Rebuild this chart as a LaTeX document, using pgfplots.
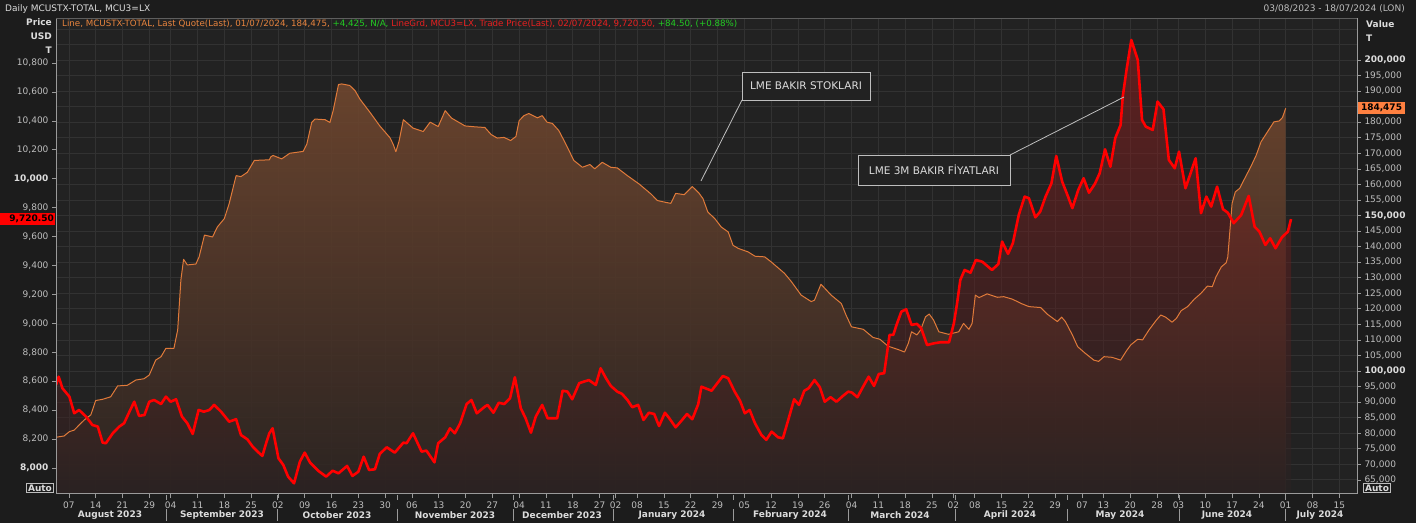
\documentclass[border=0pt]{standalone}
\usepackage{pgfplots}
\pgfplotsset{compat=1.18}
\usepackage{pgfplotstable}
\usepackage{fontspec}
\setmainfont{DejaVu Sans}

\definecolor{bg}{HTML}{1C1C1C}
\definecolor{plotbg}{HTML}{222222}
\definecolor{gridc}{HTML}{323232}
\definecolor{txt}{HTML}{BEBEBE}
\definecolor{txtb}{HTML}{DCDCDC}
\definecolor{frame}{HTML}{9A9A9A}
\definecolor{orL}{HTML}{E07A3A}
\definecolor{orTop}{HTML}{70472F}
\definecolor{orBot}{HTML}{2C2422}
\definecolor{rdTop}{HTML}{9A1E1E}
\definecolor{rdBot}{HTML}{2A2222}
\definecolor{legOr}{HTML}{E8843E}
\definecolor{legGr}{HTML}{22CC22}
\definecolor{legRd}{HTML}{E82020}
\definecolor{tagOr}{HTML}{FF8040}

\newcommand{\fs}{\fontsize{9bp}{11bp}\selectfont}
\newcommand{\fl}{\fontsize{8.7bp}{11bp}\selectfont}
\newcommand{\fa}{\fontsize{10.5bp}{12bp}\selectfont}

% LME copper stocks (tonnes), x = LME trading day index (0 = 07/08/2023)
\pgfplotstableread{
x y
-2.4 78700
-0.9 79100
0.1 80500
1.0 81000
1.9 82600
2.9 84300
4.1 85900
5.0 90500
6.3 90900
7.8 91700
9.1 95200
10.9 95400
12.5 97100
14.0 97500
15.0 98700
16.2 103500
17.2 104600
18.1 107300
19.6 107300
20.3 113200
20.9 129300
21.4 135900
22.1 134100
23.7 134400
24.3 136700
25.3 143700
26.8 143100
27.7 146300
29.0 149000
29.9 153800
31.2 162800
32.1 162500
33.3 163900
34.6 167700
37.4 167900
37.7 168900
38.1 169300
39.7 168200
41.2 170000
43.7 170600
44.4 173000
45.3 179900
45.9 181000
47.8 180800
48.7 179900
49.3 183700
50.3 192100
50.9 192300
52.4 191800
53.4 190100
54.3 187400
56.2 183100
58.0 178800
59.9 175000
60.5 172900
61.0 170500
61.6 173900
62.4 180800
64.2 178100
66.1 177000
67.4 180000
68.9 178600
70.2 183700
71.4 181300
73.9 178800
75.8 178500
77.6 178300
78.8 176000
79.9 174900
81.2 175100
82.4 174100
83.4 175400
84.0 180500
84.9 182100
85.8 182800
87.4 181400
88.3 182100
89.2 180000
90.2 179600
91.4 177300
92.7 173000
94.2 167700
95.8 165500
97.2 166400
98.1 165000
99.5 167100
101.1 165500
102.3 165300
104.2 162800
106.4 160100
108.6 156900
109.8 154800
111.4 154200
112.3 153900
113.2 157100
114.8 156700
116.3 159300
117.5 157300
118.3 155400
119.2 151100
120.5 149000
121.7 146300
123.0 144700
123.9 140400
124.9 139400
126.7 138300
128.0 136900
129.8 136700
131.0 135100
133.5 131400
134.8 128700
136.6 124400
138.5 122300
139.1 122800
140.3 127900
142.2 124400
144.1 121700
145.0 117900
146.0 114200
148.2 113400
150.0 110800
151.3 110200
152.8 108000
154.7 106900
155.9 106100
156.6 108900
157.2 112600
158.2 111600
158.9 113200
159.8 117400
160.5 118300
161.3 116400
162.3 112600
164.1 111800
166.0 112600
166.9 115300
167.9 113400
168.5 115300
169.1 124400
169.8 123600
171.3 124800
173.2 123700
174.4 123900
176.0 123100
177.8 121600
179.1 120700
181.3 120400
182.5 118300
184.4 115900
185.2 117300
185.9 115900
187.2 111600
188.2 107800
189.6 105700
191.2 103500
192.1 103100
193.1 104600
194.6 104400
196.2 103500
197.3 106500
198.1 108400
199.4 110200
200.3 110000
201.5 113200
202.8 116200
203.7 118000
204.6 117300
205.8 115700
206.6 116900
207.5 119400
208.7 120700
209.9 123000
211.2 125000
212.4 127300
213.3 127100
214.0 130300
215.0 133500
215.9 134800
216.2 136700
216.5 143200
217.0 153900
217.6 157600
218.4 158700
219.5 162400
220.5 165700
221.5 169400
222.4 173700
223.6 176900
224.8 180100
225.8 180400
226.4 181500
227.0 184475
}\stocks

% LME 3M copper price (USD/t)
\pgfplotstableread{
x y
-2.4 8574
-1.9 8631
-1.2 8551
0.1 8493
1.0 8378
1.9 8401
3.2 8355
4.4 8297
5.4 8286
6.3 8175
6.9 8171
8.2 8240
9.4 8286
10.3 8309
11.3 8389
12.2 8458
13.1 8360
14.1 8366
15.0 8458
15.9 8470
17.2 8442
18.1 8493
19.0 8458
20.0 8475
21.1 8355
22.1 8309
23.1 8235
24.2 8401
25.2 8389
26.2 8401
27.1 8436
28.4 8389
29.9 8320
31.2 8337
32.1 8228
33.3 8198
34.3 8147
35.2 8113
36.1 8083
36.8 8171
37.4 8240
38.0 8274
39.1 8067
40.0 8021
40.9 7940
42.0 7894
43.1 8044
44.0 8106
45.0 8037
46.5 7981
48.0 7940
49.2 7981
50.3 7963
51.9 8014
52.9 7945
54.0 7974
55.0 8078
56.0 7986
57.1 7991
58.0 8097
59.3 8143
60.8 8106
62.4 8175
63.0 8171
64.2 8240
65.8 8113
66.7 8120
68.2 8039
68.9 8171
70.2 8212
71.1 8274
72.0 8240
73.0 8309
74.2 8442
75.1 8470
76.1 8378
77.6 8424
78.1 8436
79.2 8382
80.2 8451
81.2 8442
82.3 8482
83.2 8627
84.3 8413
85.2 8344
86.2 8244
87.1 8355
88.3 8436
89.3 8344
91.1 8344
92.1 8534
93.0 8528
93.9 8475
95.2 8586
97.0 8608
98.3 8574
99.2 8689
100.2 8620
101.1 8567
102.3 8528
103.2 8512
104.2 8470
105.1 8420
106.2 8436
107.2 8332
108.2 8382
109.2 8373
110.1 8290
111.2 8382
112.0 8344
113.2 8281
114.4 8332
115.3 8373
116.3 8337
117.4 8440
118.0 8562
119.9 8534
122.0 8636
123.0 8620
124.2 8528
125.2 8465
126.1 8378
127.0 8401
128.0 8309
129.2 8228
130.1 8194
131.1 8251
132.3 8212
133.2 8205
134.2 8332
135.3 8475
136.2 8436
137.2 8534
138.0 8551
139.1 8608
140.1 8558
141.0 8458
142.1 8489
143.2 8458
144.4 8498
145.4 8528
146.1 8521
147.1 8489
148.0 8551
149.2 8631
150.2 8567
151.1 8650
152.1 8655
153.1 8920
153.8 8920
154.4 8989
155.3 9081
156.2 9097
157.2 8989
158.2 8996
159.0 8966
160.1 8850
161.4 8862
162.6 8869
164.2 8869
165.1 9000
165.7 9139
166.3 9300
167.1 9369
168.2 9350
169.2 9438
170.4 9426
172.2 9369
173.4 9410
174.1 9565
175.2 9480
176.1 9554
177.2 9749
178.3 9876
179.1 9865
180.3 9733
181.2 9772
182.2 9876
183.3 9968
184.2 10157
185.3 9980
186.4 9876
187.2 9796
188.3 9922
189.3 10003
190.3 9903
191.4 9964
192.3 10038
193.3 10203
194.3 10083
195.2 10280
196.2 10371
196.6 10567
197.3 10750
198.2 10959
199.4 10821
200.2 10406
200.9 10360
202.2 10337
203.1 10533
204.2 10480
205.2 10130
206.3 10072
207.1 10187
208.3 9934
210.2 10141
211.2 9761
212.2 9876
213.1 9807
214.2 9945
215.3 9789
216.2 9765
217.3 9692
218.7 9749
220.1 9881
221.2 9668
222.1 9634
223.2 9542
224.1 9588
225.1 9519
226.3 9595
227.4 9634
228.0 9720.5
}\price

\pgfplotsset{
  base/.style={
    at={(56bp,29bp)}, anchor=south west,
    width=1301bp, height=476bp, scale only axis,
    xmin=-2.4, xmax=240.3,
    scaled x ticks=false, scaled y ticks=false,
  },
  stockax/.style={ymin=60450, ymax=213500},
  priceax/.style={ymin=7820, ymax=11111},
}

\begin{document}
\begin{tikzpicture}
\fill[bg] (0,0) rectangle (1416bp,523bp);
\fill[plotbg] (56bp,29bp) rectangle (1357bp,505bp);

% --- Axis 1: stocks scale (right), grid, orange area
\begin{axis}[base, stockax,
  axis line style={draw=none},
  xtick={0,5,10,15,19,24,29,34,39,44,49,54,59,64,69,74,79,84,89,94,99,102,106,111,116,121,126,131,136,141,146,151,156,161,165,169,174,179,184,189,193,198,203,207,212,217,222,227,232,237},
  xticklabels={07,14,21,29,04,11,18,25,02,09,16,23,30,06,13,20,27,04,11,18,27,02,08,15,22,29,05,12,19,26,04,11,18,25,02,08,15,22,29,07,13,20,28,03,10,17,24,01,08,15},
  xtick pos=left, ytick pos=right, yticklabel pos=right,
  tick align=outside, major tick length=4bp,
  tick style={frame, line width=0.6bp},
  ytick={65000,70000,...,200000},
  yticklabels={{65,000},{70,000},{75,000},{80,000},{85,000},{90,000},{95,000},{\textcolor{txtb}{\textbf{100,000}}},{105,000},{110,000},{115,000},{120,000},{125,000},{130,000},{135,000},{140,000},{145,000},{\textcolor{txtb}{\textbf{150,000}}},{155,000},{160,000},{165,000},{170,000},{175,000},{180,000},{},{190,000},{195,000},{\textcolor{txtb}{\textbf{200,000}}}},
  extra y ticks={205000,210000}, extra y tick labels={},
  extra y tick style={major tick length=0pt, grid=major},
  grid=major, major grid style={gridc, line width=0.7bp},
  ticklabel style={font=\fs, text=txt},
]
\addplot[draw=none, top color=orTop, bottom color=orBot, fill opacity=0.9] table {\stocks} \closedcycle;
\end{axis}

% --- Axis 2: price scale (left), red gradient area
\begin{axis}[base, priceax,
  axis line style={draw=none},
  xtick=\empty, ytick pos=left,
  tick align=outside, major tick length=4bp,
  tick style={frame, line width=0.6bp},
  ytick={8000,8200,...,10800},
  yticklabels={{\textcolor{txtb}{\textbf{8,000}}},{8,200},{8,400},{8,600},{8,800},{9,000},{9,200},{9,400},{9,600},{9,800},{\textcolor{txtb}{\textbf{10,000}}},{10,200},{10,400},{10,600},{10,800}},
  ticklabel style={font=\fs, text=txt},
]
\addplot[draw=none, top color=rdTop, bottom color=rdBot, fill opacity=0.5] table {\price} \closedcycle;
\end{axis}

% --- Axis 3: stocks line
\begin{axis}[base, stockax, hide axis]
\addplot[orL, line width=1bp, line join=round] table {\stocks};
\end{axis}

% --- Axis 4: price line
\begin{axis}[base, priceax, hide axis]
\addplot[red, line width=2.6bp, line join=round] table {\price};
\end{axis}

% frame
\draw[frame, line width=1bp] (56bp,505bp) -- (56bp,29bp) -- (1357bp,29bp) -- (1357bp,505bp);
\draw[frame!50!plotbg, line width=0.8bp] (56bp,505bp) -- (1357bp,505bp);

% header
\node[anchor=west, font=\fs, text=txtb, inner sep=0pt] at (5bp,514bp) {Daily MCUSTX-TOTAL, MCU3=LX};
\node[anchor=east, font=\fs, text=txt, inner sep=0pt] at (1405bp,514bp) {03/08/2023 - 18/07/2024 (LON)};
\node[anchor=west, font=\fl, inner sep=0pt] at (62bp,499bp) {\textcolor{legOr}{Line, MCUSTX-TOTAL, Last Quote(Last), 01/07/2024, 184,475, }\textcolor{legGr}{+4,425, N/A, }\textcolor{legRd}{LineGrd, MCU3=LX, Trade Price(Last), 02/07/2024, 9,720.50, }\textcolor{legGr}{+84.50, (+0.88\%)}};

% unit labels
\node[anchor=east, font=\fs\bfseries, text=txtb, inner sep=0pt] at (52bp,501bp) {Price};
\node[anchor=east, font=\fs\bfseries, text=txtb, inner sep=0pt] at (52bp,487bp) {USD};
\node[anchor=east, font=\fs\bfseries, text=txtb, inner sep=0pt] at (52bp,473bp) {T};
\node[anchor=west, font=\fs\bfseries, text=txtb, inner sep=0pt] at (1366bp,499bp) {Value};
\node[anchor=west, font=\fs\bfseries, text=txtb, inner sep=0pt] at (1366bp,485bp) {T};

% last value tags
\node[fill=red, minimum width=55bp, minimum height=12bp, inner sep=0pt] at (27.5bp,303.9bp) {};
\node[anchor=east, font=\fs\bfseries, text=black, inner sep=0pt] at (54bp,303.9bp) {9,720.50};
\node[fill=tagOr, minimum width=47bp, minimum height=12bp, inner sep=0pt, font=\fs\bfseries, text=black] at (1381.5bp,414.7bp) {184,475};

% Auto boxes
\node[draw=txt, fill=bg, font=\fs\bfseries, text=txtb, inner sep=1.2bp, line width=0.8bp] at (40bp,35bp) {Auto};
\node[draw=txt, fill=bg, font=\fs\bfseries, text=txtb, inner sep=1.2bp, line width=0.8bp] at (1377bp,35bp) {Auto};

% month separators and labels
\foreach \s in {166,277,397,513,613,733,848,955,1067,1179,1285}{
  \draw[frame, line width=0.8bp] (\s bp,14bp) -- (\s bp,2bp);
  \draw[frame, line width=0.6bp] (\s bp,28bp) -- (\s bp,23bp);
}
\foreach \c/\m in {110/August 2023,222/September 2023,337/October 2023,455/November 2023,562/December 2023,672/January 2024,790/February 2024,900/March 2024,1010/April 2024,1120/May 2024,1227/June 2024,1320/July 2024}{
  \node[font=\fs\bfseries, text=txtb, inner sep=0pt] at (\c bp,8bp) {\m};
}

% annotations
\draw[txt, line width=0.8bp] (742bp,423bp) -- (701bp,342bp);
\node[draw=txt, fill=plotbg, font=\fa, text=txtb, minimum width=128bp, minimum height=28bp, inner sep=0pt, line width=0.8bp] at (806bp,437bp) {LME BAKIR STOKLARI};
\draw[txt, line width=0.8bp] (1010bp,368bp) -- (1124bp,426bp);
\node[draw=txt, fill=plotbg, font=\fa, text=txtb, minimum width=152bp, minimum height=30bp, inner sep=0pt, line width=0.8bp] at (934bp,353bp) {LME 3M BAKIR FİYATLARI};
\end{tikzpicture}
\end{document}
